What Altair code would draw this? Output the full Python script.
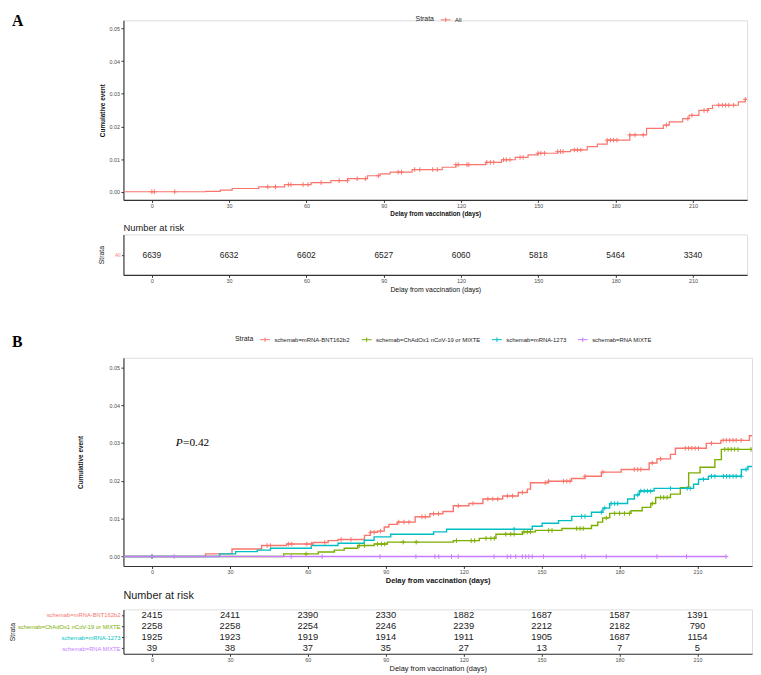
import altair as alt
import numpy as np
import pandas as pd

RED, GREEN, CYAN, PURPLE = "#F8766D", "#7CAE00", "#00BFC4", "#C77CFF"
SANS = "Liberation Sans"
SERIF = "Liberation Serif"
AXIS_COL = "#333333"
TICK_TXT = "#4D4D4D"
PLUS = "M-1,0L1,0M0,-1L0,1"
LEG_SYM = "M-1,0L1,0M0,-0.45L0,0.45"

x_ticks = [0, 30, 60, 90, 120, 150, 180, 210]
y_ticks = [0.0, 0.01, 0.02, 0.03, 0.04, 0.05]
x_domain = [-11, 231]
y_domain = [-0.0025, 0.0525]
risk_times = [0, 30, 60, 90, 120, 150, 180, 210]

# ---------------- Panel A (all) ----------------
a_times = [-11, 20.9, 26.6, 31.2, 41.5, 51.5, 61.8, 69.5, 76, 83.7, 88.6, 92.5, 101, 112.7, 118,
           129.6, 135.7, 141, 146, 149.9, 157.5, 162.5, 169, 172.9, 176.7, 185.5, 192, 198.5,
           200.8, 206, 208.5, 212.3, 216, 217.6, 227.6, 230.3, 231]
a_values = [0, 0.0001, 0.0005, 0.001, 0.0015, 0.0022, 0.0028, 0.0034, 0.004, 0.0049, 0.0055, 0.006,
            0.0068, 0.0075, 0.0083, 0.009, 0.0098, 0.0105, 0.0113, 0.0118, 0.0123, 0.0128, 0.0138,
            0.0146, 0.0158, 0.0174, 0.0194, 0.0204, 0.0214, 0.0224, 0.0234, 0.0249, 0.0255, 0.0265,
            0.0275, 0.0283, 0.0283]
a_censor = [0, 1, 8.9, 45, 48, 53, 54, 58.7, 60.6, 65.7, 72.7, 75.9, 79.7, 82.9, 87.9, 95.6, 96.9,
            102, 104, 109, 110.8, 118, 118.9, 122.3, 123, 130, 131.4, 132.7, 136.5, 137.6, 139,
            142.9, 144.1, 149.9, 151, 152.4, 157.5, 158.6, 159.6, 164, 165.2, 166.5, 176.7, 178,
            179.2, 180.5, 185.5, 187.5, 190.7, 199.7, 208, 209.6, 214.3, 215.6, 220, 221.4, 222.6,
            223.9, 225.8, 230.3]
a_strata = ["All"]
a_risk = [6639, 6632, 6602, 6527, 6060, 5818, 5464, 3340]

# ---------------- Panel B (by scheme) ----------------
b_groups = ["schemab=mRNA-BNT162b2", "schemab=ChAdOx1 nCoV-19 or MIXTE",
            "schemab=mRNA-1273", "schemab=RNA MIXTE"]
b_colors = [RED, GREEN, CYAN, PURPLE]

bnt_times = [-11, 20.6, 30.8, 42.2, 51.8, 62, 67.8, 71.6, 81.8, 84, 86.8, 89.4, 91.2, 94.4, 101.3,
             107, 112, 116, 122, 127.4, 135, 141, 144.5, 145.7, 152.6, 161.5, 166.7, 173, 180.6,
             191.4, 194.4, 199.6, 201.5, 213.4, 219, 230, 231]
bnt_values = [0, 0.0007, 0.002, 0.0029, 0.0033, 0.0037, 0.0042, 0.0045, 0.0056, 0.0064, 0.0067,
              0.0078, 0.0085, 0.0091, 0.0105, 0.0113, 0.0119, 0.0134, 0.014, 0.0152, 0.016, 0.0169,
              0.0178, 0.0195, 0.0199, 0.0206, 0.0212, 0.0223, 0.023, 0.0247, 0.0258, 0.027, 0.0286,
              0.0299, 0.0307, 0.0319, 0.0319]
bnt_censor = [0, 44.3, 45.6, 52.6, 53.8, 59.6, 61.4, 66.5, 72.8, 76.6, 84.2, 85.5, 88, 95, 97, 98.9,
              103.9, 105.2, 108.4, 110.3, 117.9, 123.6, 129.3, 131.2, 133.1, 136.9, 138.8, 142.6,
              151.4, 152.7, 158.4, 159.7, 160.9, 166.7, 173.6, 185.7, 187, 188.2, 192.6, 195.8,
              205.3, 206.6, 207.8, 209.1, 210.4, 215.4, 219.9, 221.1, 222.4, 223.7, 224.9, 226.8]

chad_times = [-11, 50.7, 64, 70.2, 74, 79.2, 85.5, 90.6, 116, 126, 132.4, 142.6, 147.6, 157.8, 169.2,
              171.6, 173.5, 176.2, 184.4, 188.7, 192, 193.9, 199.6, 203.4, 206.6, 211, 216.7, 219.2,
              231]
chad_values = [0, 0.0007, 0.0012, 0.0017, 0.0022, 0.0029, 0.0033, 0.0038, 0.0042, 0.0048, 0.0059,
               0.0065, 0.0069, 0.0074, 0.0082, 0.0091, 0.0102, 0.0114, 0.0121, 0.013, 0.014, 0.0156,
               0.0165, 0.0182, 0.0221, 0.0236, 0.0256, 0.0283, 0.0283]
chad_censor = [59.3, 79.8, 81.8, 86.8, 88.3, 89.6, 96.7, 101.7, 117.2, 122.9, 124.2, 128.6, 130.5,
               131.8, 136.2, 138.1, 139.4, 143.2, 144.5, 145.7, 152.7, 154, 163.5, 164.8, 166,
               174.9, 178.1, 180, 181.9, 183.8, 192.6, 195.8, 197, 198.3, 220.5, 221.8, 223, 224.3,
               225.6, 230.6]

m1273_times = [-11, 26, 32.2, 40.5, 45.6, 61.3, 71.6, 81.7, 85.5, 91.9, 108.4, 113.4, 146.4, 150.2,
               156.5, 161.6, 169.2, 173.6, 176.2, 183.1, 185.7, 187.6, 193.3, 208.5, 210.4, 214.2,
               226.9, 229.4, 231]
m1273_values = [0, 0.0007, 0.0013, 0.0017, 0.0022, 0.0029, 0.0035, 0.0043, 0.0052, 0.0059, 0.0065,
                0.0072, 0.008, 0.0088, 0.0095, 0.0106, 0.0117, 0.0128, 0.014, 0.0152, 0.0163,
                0.0173, 0.018, 0.0191, 0.0204, 0.0212, 0.023, 0.0238, 0.0238]
m1273_censor = [0, 139.4, 165.4, 166.7, 173, 174.3, 176.8, 178.1, 179.3, 187, 188.2, 189.5, 190.8,
                192, 199.6, 206, 207.2, 212.3, 215.4, 216.7, 220, 221.2, 222.4, 223.7, 224.9, 226.8,
                228.7]

rna_times = [-11, 221]
rna_values = [0, 0]
rna_censor = [0, 8.5, 53.6, 65.5, 87.8, 101.6, 108.9, 110.4, 115.3, 117.9, 131.7, 136.8, 138.1, 140,
              142.6, 143.9, 145.1, 146.4, 150.7, 165.4, 166.7, 174.9, 194.4, 205.8, 221]

bnt_risk = [2415, 2411, 2390, 2330, 1882, 1687, 1587, 1391]
chad_risk = [2258, 2258, 2254, 2246, 2239, 2212, 2182, 790]
m1273_risk = [1925, 1923, 1919, 1914, 1911, 1905, 1687, 1154]
rna_risk = [39, 38, 37, 35, 27, 13, 7, 5]


def step_at(times, values, ts):
    idx = np.searchsorted(np.asarray(times, dtype=float), np.asarray(ts, dtype=float), side="right") - 1
    return [values[max(int(i), 0)] for i in idx]


def curve_df(times, values, name):
    return pd.DataFrame({"time": times, "value": values, "strata": name})


def censor_df(times, values, cens, name):
    return pd.DataFrame({"time": cens, "value": step_at(times, values, cens), "strata": name})


xscale = alt.Scale(domain=x_domain, nice=False, zero=False)
yscale = alt.Scale(domain=y_domain, nice=False, zero=False)


def spacer(y_px):
    # invisible element that only reserves vertical room above a panel
    return alt.Chart(pd.DataFrame({"s": ["."]})).mark_text(
        fontSize=1, opacity=0, baseline="top", align="left"
    ).encode(x=alt.value(0), y=alt.value(y_px), text="s:N")


def x_axis(title_size, bold):
    return alt.Axis(values=x_ticks, format="d", title="Delay from vaccination (days)",
                    titleFontSize=title_size, titleFontWeight="bold" if bold else "normal",
                    labelFontSize=5.5, tickSize=2.5, labelPadding=1.5, titlePadding=1.5,
                    grid=False, domainColor=AXIS_COL, tickColor=AXIS_COL, domainWidth=1.1,
                    labelColor=TICK_TXT, titleColor="#111111", labelFont=SANS, titleFont=SANS)


def km_panel(curves, censors, groups, colors, width, height, leg_x, leg_y, label, label_y,
             ytitle_pad, line_w, xtitle_size, extra=None):
    legend = alt.Legend(title="Strata", orient="none", legendX=leg_x, legendY=leg_y,
                        direction="horizontal", titleOrient="left", titleFontSize=7,
                        titleFontWeight="normal", titleFont=SANS, titleColor="#222222",
                        labelFont=SANS, labelFontSize=6, labelColor="#222222",
                        symbolType=LEG_SYM, symbolSize=100, symbolStrokeWidth=1,
                        labelLimit=0, columnPadding=9, labelOffset=4, titlePadding=6)
    color = alt.Color("strata:N", scale=alt.Scale(domain=groups, range=colors), legend=legend)
    x = alt.X("time:Q", scale=xscale, axis=x_axis(xtitle_size, True))
    y = alt.Y("value:Q", scale=yscale,
              axis=alt.Axis(values=y_ticks, format=".2f", title="Cumulative event",
                            titleFontSize=6.5, titleFontWeight="bold", labelFontSize=5.5,
                            tickSize=2.5, labelPadding=1.5, titlePadding=ytitle_pad, grid=False,
                            domainColor=AXIS_COL, tickColor=AXIS_COL, domainWidth=1.1,
                            labelColor=TICK_TXT, titleColor="#111111", labelFont=SANS,
                            titleFont=SANS))
    layers = []
    for df in curves:
        layers.append(alt.Chart(df).mark_line(interpolate="step-after", strokeWidth=line_w,
                                              clip=True).encode(x=x, y=y, color=color))
    for df in censors:
        layers.append(alt.Chart(df).mark_point(shape=PLUS, size=22, filled=False, strokeWidth=1,
                                               opacity=1, clip=True).encode(x=x, y=y, color=color))
    if extra is not None:
        layers.extend(extra)
    lab = alt.Chart(pd.DataFrame({"lab": [label]})).mark_text(
        font=SERIF, fontWeight="bold", fontSize=16, align="left", baseline="top", color="#000000"
    ).encode(x=alt.value(-113), y=alt.value(label_y), text="lab:N")
    layers.append(lab)
    return alt.layer(*layers).properties(width=width, height=height)


def risk_table(df, groups, colors, width, height, title_size, num_size, label_size, strata_pad,
               title_offset, xtitle_size):
    if len(groups) == 1:
        lab_col = colors[0]
    else:
        lab_col = {"condition": [{"test": "datum.value === '" + g + "'", "value": c}
                                 for g, c in zip(groups[:-1], colors[:-1])],
                   "value": colors[-1]}
    y = alt.Y("strata:N", sort=groups, scale=alt.Scale(domain=groups),
              axis=alt.Axis(title="Strata", titleFontSize=7, titleFontWeight="normal",
                            titleFont=SANS, titleColor="#222222", labelFont=SANS,
                            labelFontSize=label_size, tickSize=2, labelPadding=1.5,
                            titlePadding=strata_pad, domainColor=AXIS_COL, tickColor=AXIS_COL,
                            domainWidth=1.1, labelLimit=0, grid=False, labelColor=lab_col))
    x = alt.X("time:Q", scale=xscale, axis=x_axis(xtitle_size, False))
    return alt.Chart(df).mark_text(font=SANS, fontSize=num_size, color="#222222").encode(
        x=x, y=y, text=alt.Text("n:Q", format="d")
    ).properties(
        width=width, height=height,
        title=alt.TitleParams("Number at risk", anchor="start", frame="group",
                              fontSize=title_size, fontWeight="normal", font=SANS,
                              color="#222222", offset=title_offset))


# ---- build panel A ----
a_plot = km_panel([curve_df(a_times, a_values, "All")],
                  [censor_df(a_times, a_values, a_censor, "All")],
                  a_strata, [RED], 632, 182, 296, -6, "A", -7, 4, 1.2, 6.5)
a_risk_df = pd.DataFrame({"time": risk_times, "n": a_risk, "strata": "All"})
a_table = risk_table(a_risk_df, a_strata, [RED], 632, 41, 9.5, 8.5, 5, 10, 2.5, 7)

# ---- build panel B ----
b_curves = [curve_df(bnt_times, bnt_values, b_groups[0]),
            curve_df(chad_times, chad_values, b_groups[1]),
            curve_df(m1273_times, m1273_values, b_groups[2]),
            curve_df(rna_times, rna_values, b_groups[3])]
b_cens = [censor_df(bnt_times, bnt_values, bnt_censor, b_groups[0]),
          censor_df(chad_times, chad_values, chad_censor, b_groups[1]),
          censor_df(m1273_times, m1273_values, m1273_censor, b_groups[2]),
          censor_df(rna_times, rna_values, rna_censor, b_groups[3])]
pval = pd.DataFrame({"time": [9.1], "value": [0.0299]})
p_layers = [
    alt.Chart(pval).mark_text(font=SERIF, fontStyle="italic", fontSize=11.5, align="left",
                              baseline="middle", color="#000000").encode(
        x=alt.X("time:Q", scale=xscale), y=alt.Y("value:Q", scale=yscale), text=alt.value("P")),
    alt.Chart(pval).mark_text(font=SERIF, fontSize=11.5, align="left", baseline="middle",
                              dx=7.5, color="#000000").encode(
        x=alt.X("time:Q", scale=xscale), y=alt.Y("value:Q", scale=yscale), text=alt.value("=0.42")),
    spacer(-60.5),
]
b_plot = km_panel(b_curves, b_cens, b_groups, b_colors, 637, 211, 113, -24, "B", -24, 25.5, 1.4,
                  7.5, extra=p_layers)

rows = []
for g, r in zip(b_groups, [bnt_risk, chad_risk, m1273_risk, rna_risk]):
    for t, n in zip(risk_times, r):
        rows.append({"time": t, "n": n, "strata": g})
b_risk_df = pd.DataFrame(rows)
b_table = risk_table(b_risk_df, b_groups, b_colors, 637, 45, 11, 9.5, 5.9, 1.5, 9, 7.5)

chart = alt.concat(a_plot, a_table, b_plot, b_table, columns=1, spacing=4, align="each",
                   padding=0).resolve_scale(color="independent").resolve_legend(
    color="independent").configure_view(stroke="transparent").configure(background="white")

chart.save("out.html", embed_options={"renderer": "svg", "actions": False})
